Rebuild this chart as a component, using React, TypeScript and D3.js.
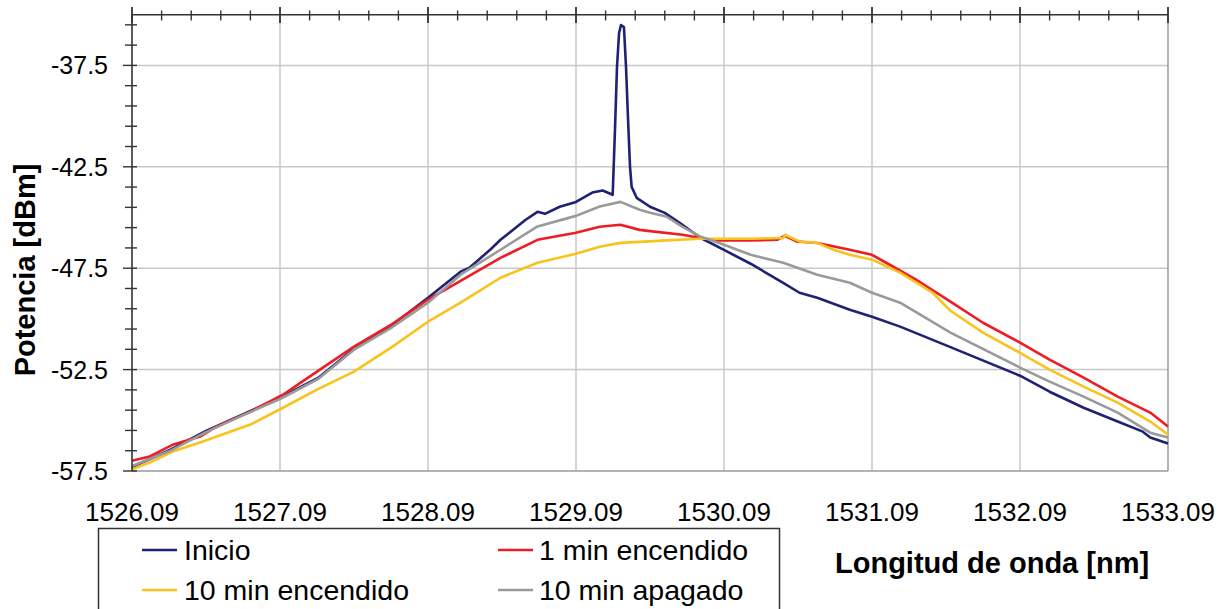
import React from 'react';
import * as d3 from 'd3';

// ---------- data ----------
const wavelengthTicks = [1526.09, 1527.09, 1528.09, 1529.09, 1530.09, 1531.09, 1532.09, 1533.09];
const powerTicks = [-57.5, -52.5, -47.5, -42.5, -37.5];

const inicioWl = [1526.09, 1526.35, 1526.59, 1526.85, 1527.09, 1527.35, 1527.59, 1527.85, 1528.09, 1528.31, 1528.37, 1528.51, 1528.58, 1528.64, 1528.75, 1528.83, 1528.88, 1528.98, 1529.09, 1529.2, 1529.27, 1529.31, 1529.338, 1529.354, 1529.367, 1529.381, 1529.394, 1529.414, 1529.428, 1529.441, 1529.455, 1529.466, 1529.5, 1529.59, 1529.69, 1529.79, 1529.93, 1530.09, 1530.27, 1530.49, 1530.6, 1530.72, 1530.94, 1531.09, 1531.28, 1531.62, 1532.09, 1532.29, 1532.52, 1532.75, 1532.92, 1532.97, 1533.09];
const inicioDbm = [-57.3, -56.45, -55.52, -54.67, -53.88, -52.9, -51.47, -50.29, -48.96, -47.67, -47.48, -46.59, -46.1, -45.75, -45.11, -44.72, -44.82, -44.47, -44.23, -43.77, -43.67, -43.79, -43.88, -40.53, -37.58, -35.9, -35.51, -35.61, -37.58, -40.04, -42.5, -43.49, -44.03, -44.47, -44.77, -45.26, -46.0, -46.6, -47.28, -48.22, -48.71, -48.96, -49.55, -49.89, -50.38, -51.39, -52.8, -53.59, -54.38, -55.06, -55.56, -55.85, -56.14];

const min1Wl = [1526.09, 1526.21, 1526.37, 1526.55, 1526.66, 1526.89, 1527.11, 1527.23, 1527.59, 1527.85, 1528.09, 1528.31, 1528.58, 1528.83, 1529.09, 1529.25, 1529.39, 1529.52, 1529.59, 1529.81, 1529.93, 1530.04, 1530.27, 1530.45, 1530.5, 1530.58, 1530.72, 1530.94, 1531.09, 1531.21, 1531.39, 1531.62, 1531.84, 1532.09, 1532.29, 1532.52, 1532.75, 1532.97, 1533.09];
const min1Dbm = [-57.0, -56.78, -56.19, -55.8, -55.31, -54.57, -53.74, -53.14, -51.37, -50.24, -49.05, -48.12, -46.99, -46.1, -45.75, -45.46, -45.36, -45.61, -45.67, -45.85, -46.01, -46.13, -46.13, -46.1, -45.9, -46.18, -46.26, -46.59, -46.84, -47.33, -48.07, -49.15, -50.19, -51.17, -52.01, -52.9, -53.83, -54.62, -55.31];

const min10OnWl = [1526.09, 1526.21, 1526.37, 1526.55, 1526.89, 1527.11, 1527.34, 1527.59, 1527.85, 1528.09, 1528.31, 1528.58, 1528.83, 1529.09, 1529.25, 1529.39, 1529.52, 1529.7, 1529.93, 1530.27, 1530.49, 1530.5, 1530.6, 1530.72, 1530.83, 1530.94, 1531.09, 1531.28, 1531.5, 1531.62, 1531.84, 1532.09, 1532.29, 1532.52, 1532.75, 1532.97, 1533.09];
const min10OnDbm = [-57.42, -57.08, -56.53, -56.09, -55.21, -54.38, -53.49, -52.6, -51.37, -50.14, -49.2, -47.97, -47.23, -46.79, -46.44, -46.25, -46.2, -46.13, -46.05, -46.05, -46.01, -45.85, -46.18, -46.25, -46.59, -46.84, -47.08, -47.72, -48.71, -49.6, -50.68, -51.67, -52.5, -53.34, -54.13, -55.06, -55.7];

const min10OffWl = [1526.09, 1526.35, 1526.59, 1526.85, 1527.09, 1527.35, 1527.59, 1527.85, 1528.09, 1528.31, 1528.58, 1528.83, 1529.09, 1529.25, 1529.39, 1529.52, 1529.59, 1529.7, 1529.81, 1529.93, 1530.09, 1530.27, 1530.49, 1530.72, 1530.94, 1531.09, 1531.28, 1531.62, 1532.09, 1532.29, 1532.52, 1532.75, 1532.97, 1533.09];
const min10OffDbm = [-57.25, -56.5, -55.58, -54.72, -53.95, -52.95, -51.52, -50.4, -49.2, -47.82, -46.59, -45.44, -44.92, -44.46, -44.23, -44.62, -44.77, -44.95, -45.46, -45.94, -46.34, -46.84, -47.23, -47.82, -48.22, -48.71, -49.2, -50.68, -52.4, -53.09, -53.83, -54.62, -55.61, -55.85];

const seriesNames = ['Inicio', '1 min encendido', '10 min encendido', '10 min apagado'];
const seriesColors = ['#1f2273', '#ee1d24', '#f7c31c', '#9a9a9a'];

// ---------- layout ----------
const W = 1230;
const H = 609;
const L = 132, R = 1168, T = 14.7, B = 471;
const FONT = "'Liberation Sans', Arial, Helvetica, sans-serif";

export default function App() {
  const x = d3.scaleLinear().domain([1526.09, 1533.09]).range([L, R]);
  const y = d3.scaleLinear().domain([-57.5, -35]).range([B, T]);

  const line = d3
    .line<[number, number]>()
    .x((d) => x(d[0]))
    .y((d) => y(d[1]));

  const series = [
    d3.zip(inicioWl, inicioDbm) as [number, number][],
    d3.zip(min1Wl, min1Dbm) as [number, number][],
    d3.zip(min10OnWl, min10OnDbm) as [number, number][],
    d3.zip(min10OffWl, min10OffDbm) as [number, number][],
  ];

  const topMinor = d3.range(0, 36).map((i) => 1526.09 + i * 0.2);
  const leftMinor = d3.range(0, 23).map((i) => -57.5 + i);

  const legendItems = [
    { i: 0, sx: 142, tx: 184, yy: 550 },
    { i: 1, sx: 498, tx: 539, yy: 550 },
    { i: 2, sx: 142, tx: 184, yy: 590 },
    { i: 3, sx: 498, tx: 539, yy: 590 },
  ];

  return (
    <svg
      width={W}
      height={H}
      style={{ position: 'absolute', left: 0, top: 0, background: '#fff' }}
      fontFamily={FONT}
    >
      <rect x={0} y={0} width={W} height={H} fill="#fff" />
      {/* gridlines */}
      {wavelengthTicks.slice(1, -1).map((t) => (
        <line key={'gx' + t} x1={x(t)} x2={x(t)} y1={T} y2={B} stroke="#c8c8c8" strokeWidth={1.5} />
      ))}
      {powerTicks.slice(1).map((t) => (
        <line key={'gy' + t} x1={L} x2={R} y1={y(t)} y2={y(t)} stroke="#c8c8c8" strokeWidth={1.5} />
      ))}
      {/* plot border right/bottom */}
      <line x1={R} x2={R} y1={T} y2={B} stroke="#9a9a9a" strokeWidth={1.5} />
      <line x1={L} x2={R} y1={B} y2={B} stroke="#9a9a9a" strokeWidth={1.5} />

      {/* series */}
      {series.map((s, i) => (
        <path
          key={'s' + i}
          d={line(s) || ''}
          fill="none"
          stroke={seriesColors[i]}
          strokeWidth={2.6}
          strokeLinejoin="round"
        />
      ))}

      {/* top axis */}
      <line x1={L} x2={R} y1={T} y2={T} stroke="#333" strokeWidth={1.6} />
      {topMinor.map((t, i) => {
        const major = i % 5 === 0;
        return (
          <line
            key={'tt' + i}
            x1={x(t)}
            x2={x(t)}
            y1={major ? 7 : 10.5}
            y2={major ? 23 : 20.5}
            stroke="#333"
            strokeWidth={major ? 1.8 : 1.4}
          />
        );
      })}
      {/* left axis */}
      <line x1={L} x2={L} y1={T} y2={B} stroke="#333" strokeWidth={1.6} />
      {leftMinor.map((t, i) => {
        const major = i % 5 === 0;
        return (
          <line
            key={'lt' + i}
            x1={major ? 123 : 125}
            x2={137}
            y1={y(t)}
            y2={y(t)}
            stroke="#333"
            strokeWidth={1.4}
          />
        );
      })}

      {/* y tick labels */}
      {powerTicks.map((t) => (
        <text
          key={'yl' + t}
          x={108}
          y={y(t)}
          dy="0.36em"
          textAnchor="end"
          fontSize={25}
          fill="#000"
        >
          {t.toFixed(1)}
        </text>
      ))}
      {/* x tick labels */}
      {wavelengthTicks.map((t) => (
        <text key={'xl' + t} x={x(t)} y={521} textAnchor="middle" fontSize={26} fill="#000">
          {t.toFixed(2)}
        </text>
      ))}

      {/* axis titles */}
      <text
        transform={`translate(35,270) rotate(-90)`}
        textAnchor="middle"
        fontSize={29}
        fontWeight="bold"
        fill="#000"
      >
        Potencia [dBm]
      </text>
      <text x={835} y={573} fontSize={29} fontWeight="bold" fill="#000">
        Longitud de onda [nm]
      </text>

      {/* legend */}
      <rect x={98.5} y={528.5} width={681} height={100} fill="#fff" stroke="#333" strokeWidth={1.5} />
      {legendItems.map((it) => (
        <g key={'lg' + it.i}>
          <line x1={it.sx} x2={it.sx + 35} y1={it.yy} y2={it.yy} stroke={seriesColors[it.i]} strokeWidth={2.6} />
          <text x={it.tx} y={it.yy + 9.5} fontSize={28.5} fill="#000">
            {seriesNames[it.i]}
          </text>
        </g>
      ))}
    </svg>
  );
}
